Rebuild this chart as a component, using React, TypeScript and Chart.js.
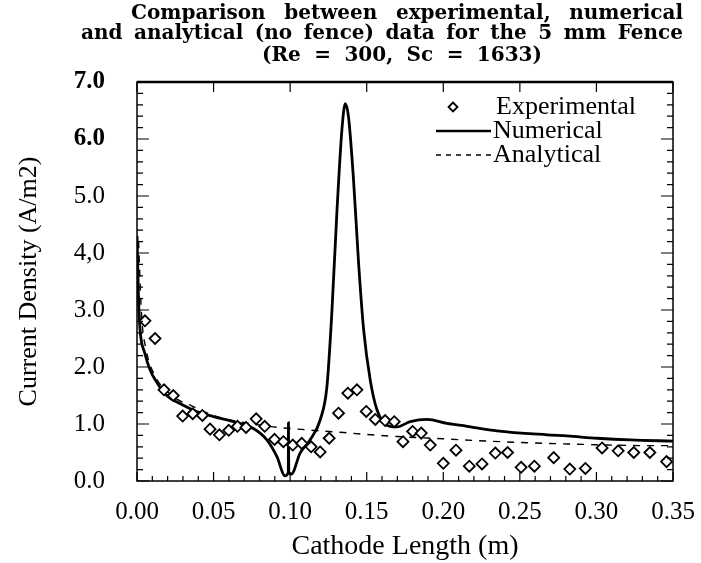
import React, { useEffect, useRef } from "react";
import { Chart, registerables } from "chart.js";
Chart.register(...registerables);

const TITLE_LINES = [
  "Comparison between experimental, numerical",
  "and analytical (no fence) data for the 5 mm Fence",
  "(Re = 300, Sc = 1633)",
];
const X_TITLE = "Cathode Length (m)";
const Y_TITLE = "Current Density (A/m2)";
const Y_TICK_LABELS = ["0.0", "1.0", "2.0", "3.0", "4,0", "5.0", "6.0", "7.0"];
const SERIES_LABELS = ["Experimental", "Numerical", "Analytical"];

const expX = [0.0052, 0.0118, 0.0176, 0.0237, 0.0298, 0.0364, 0.0427, 0.0477, 0.0538, 0.0599, 0.0656, 0.0712, 0.0778, 0.0834, 0.0898, 0.0956, 0.1017, 0.1076, 0.1137, 0.1196, 0.1255, 0.1316, 0.1377, 0.1436, 0.1497, 0.1556, 0.162, 0.168, 0.1737, 0.18, 0.1856, 0.1915, 0.2, 0.2083, 0.217, 0.2253, 0.234, 0.242, 0.2508, 0.2595, 0.2721, 0.2826, 0.2928, 0.3037, 0.3142, 0.3244, 0.3349, 0.3458];
const expY = [2.81, 2.5, 1.6, 1.5, 1.14, 1.18, 1.15, 0.91, 0.81, 0.89, 0.96, 0.94, 1.09, 0.96, 0.73, 0.69, 0.63, 0.66, 0.6, 0.51, 0.75, 1.19, 1.54, 1.6, 1.22, 1.08, 1.06, 1.04, 0.69, 0.87, 0.84, 0.63, 0.31, 0.54, 0.26, 0.3, 0.49, 0.5, 0.24, 0.26, 0.41, 0.21, 0.22, 0.58, 0.53, 0.5, 0.5, 0.34];

const numX = [0, 0.001, 0.002, 0.005, 0.0085, 0.012, 0.019, 0.028, 0.039, 0.05, 0.063, 0.076, 0.0848, 0.0913, 0.0967, 0.0988, 0.0989, 0.0991, 0.1008, 0.1065, 0.113, 0.1196, 0.124, 0.1272, 0.1305, 0.1338, 0.136, 0.1381, 0.1414, 0.1447, 0.148, 0.1523, 0.1567, 0.1632, 0.1697, 0.1784, 0.1893, 0.2024, 0.2155, 0.235, 0.2678, 0.2809, 0.3005, 0.3222, 0.35];
const numY = [4.3, 3.2, 2.65, 2.25, 1.95, 1.77, 1.51, 1.36, 1.22, 1.13, 1.04, 0.92, 0.72, 0.43, 0.09, 0.15, 1.02, 0.15, 0.12, 0.49, 0.72, 1.07, 1.65, 2.94, 4.7, 6.16, 6.62, 6.39, 5.28, 3.82, 2.65, 1.77, 1.25, 0.98, 0.95, 1.04, 1.08, 1.01, 0.96, 0.88, 0.81, 0.79, 0.75, 0.72, 0.7];

const anaX = [0.001, 0.003, 0.006, 0.0107, 0.0237, 0.0357, 0.05, 0.065, 0.089, 0.105, 0.135, 0.148, 0.17, 0.2, 0.237, 0.281, 0.3375, 0.35];
const anaY = [4.2, 2.9, 2.3, 1.9, 1.48, 1.32, 1.15, 1.05, 0.95, 0.91, 0.85, 0.82, 0.78, 0.74, 0.69, 0.65, 0.62, 0.62];

const zip = (xs: number[], ys: number[]) => xs.map((x, i) => ({ x, y: ys[i] }));

const SERIF = "'Liberation Serif', 'Times New Roman', serif";
const TITLE_FONT = "bold 20px 'DejaVu Serif', serif";
const TITLE_LAYOUT = [
  { left: 131, right: 683, y: 14 },
  { left: 81, right: 683, y: 34 },
  { left: 262, right: 542, y: 56 },
];

function drawJustified(ctx: CanvasRenderingContext2D, text: string, left: number, right: number, y: number) {
  const words = text.split(" ");
  const widths = words.map((w) => ctx.measureText(w).width);
  const total = widths.reduce((a, b) => a + b, 0);
  const gap = words.length > 1 ? (right - left - total) / (words.length - 1) : 0;
  let x = left;
  words.forEach((w, i) => {
    ctx.fillText(w, x, y);
    x += widths[i] + gap;
  });
}

const decorPlugin = {
  id: "decor",
  afterDatasetsDraw(chart: any) {
    const { ctx, chartArea, scales } = chart;
    const { left, right, top, bottom } = chartArea;
    const xs = scales.x;
    const ys = scales.y;
    ctx.save();
    ctx.strokeStyle = "#000";
    ctx.lineWidth = 1.5;
    ctx.strokeRect(left, top, right - left, bottom - top);
    ctx.lineWidth = 2.5;
    ctx.beginPath();
    ctx.moveTo(left, top);
    ctx.lineTo(right, top);
    ctx.stroke();
    ctx.lineWidth = 1.2;
    ctx.beginPath();
    for (let i = 0; i <= 35; i++) {
      const v = i * 0.2;
      const py = ys.getPixelForValue(v);
      const major = i % 5 === 0;
      const len = major ? 12 : 6;
      ctx.moveTo(left, py);
      ctx.lineTo(left + len, py);
      ctx.moveTo(right, py);
      ctx.lineTo(right - len, py);
    }
    for (let i = 0; i <= 35; i++) {
      const v = i * 0.01;
      const px = xs.getPixelForValue(v);
      const major = i % 5 === 0;
      ctx.moveTo(px, bottom);
      ctx.lineTo(px, bottom - (major ? 9 : 5));
      if (major) {
        ctx.moveTo(px, top);
        ctx.lineTo(px, top + 10);
      }
    }
    ctx.stroke();
    ctx.restore();
  },
  afterDraw(chart: any) {
    const { ctx } = chart;
    ctx.save();
    ctx.fillStyle = "#000";
    ctx.font = TITLE_FONT;
    ctx.textBaseline = "middle";
    ctx.textAlign = "left";
    TITLE_LINES.forEach((line, i) => {
      const l = TITLE_LAYOUT[i];
      drawJustified(ctx, line, l.left, l.right, l.y);
    });

    // legend
    const ds = chart.data.datasets;
    ctx.font = `26px ${SERIF}`;
    ctx.textBaseline = "middle";
    const lx0 = 436;
    const lx1 = 491;
    const tx = 493;
    const rows = [107, 131, 155];
    const cx = 453;
    const r = 4.5;
    ctx.beginPath();
    ctx.moveTo(cx, rows[0] - r);
    ctx.lineTo(cx + r, rows[0]);
    ctx.lineTo(cx, rows[0] + r);
    ctx.lineTo(cx - r, rows[0]);
    ctx.closePath();
    ctx.fillStyle = "#fff";
    ctx.fill();
    ctx.strokeStyle = "#000";
    ctx.lineWidth = 1.8;
    ctx.stroke();
    ctx.fillStyle = "#000";
    ctx.fillText(ds[0].label, tx + 3, rows[0]);
    ctx.lineWidth = 2.5;
    ctx.beginPath();
    ctx.moveTo(lx0, rows[1]);
    ctx.lineTo(lx1, rows[1]);
    ctx.stroke();
    ctx.fillText(ds[1].label, tx, rows[1]);
    ctx.lineWidth = 1.3;
    ctx.setLineDash([5, 5]);
    ctx.beginPath();
    ctx.moveTo(lx0, rows[2]);
    ctx.lineTo(lx1, rows[2]);
    ctx.stroke();
    ctx.setLineDash([]);
    ctx.fillText(ds[2].label, tx, rows[2]);
    ctx.restore();
  },
};

export default function App() {
  const canvasRef = useRef<HTMLCanvasElement | null>(null);

  useEffect(() => {
    const canvas = canvasRef.current;
    if (!canvas) return;
    const chart = new Chart(canvas, {
      type: "scatter",
      data: {
        datasets: [
          {
            label: SERIES_LABELS[0],
            data: zip(expX, expY),
            showLine: false,
            pointStyle: "rectRot",
            pointRadius: 5.5,
            pointBorderWidth: 1.8,
            pointBorderColor: "#000",
            pointBackgroundColor: "#fff",
            order: 0,
          },
          {
            label: SERIES_LABELS[1],
            data: zip(numX, numY),
            showLine: true,
            borderColor: "#000",
            borderWidth: 2.8,
            pointRadius: 0,
            cubicInterpolationMode: "monotone",
            order: 1,
          },
          {
            label: SERIES_LABELS[2],
            data: zip(anaX, anaY),
            showLine: true,
            borderColor: "#000",
            borderWidth: 1.4,
            borderDash: [7, 7],
            pointRadius: 0,
            cubicInterpolationMode: "monotone",
            order: 2,
          },
        ],
      } as any,
      options: {
        animation: false,
        responsive: true,
        maintainAspectRatio: false,
        layout: { padding: { top: 82, right: 28, left: 0, bottom: 0 } },
        plugins: {
          legend: { display: false },
          title: { display: false },
          tooltip: { enabled: false },
        },
        scales: {
          x: {
            type: "linear",
            min: 0,
            max: 0.35,
            afterFit: (s: any) => {
              s.height = 82;
              s.paddingLeft = 0;
              s.paddingRight = 0;
            },
            grid: { display: false, drawTicks: false },
            border: { display: false },
            ticks: {
              stepSize: 0.05,
              padding: 16,
              color: "#000",
              font: { family: SERIF, size: 25 },
              callback: (v: any) => Number(v).toFixed(2),
            },
            title: {
              display: true,
              text: X_TITLE,
              color: "#000",
              font: { family: SERIF, size: 28 },
              padding: { top: 0, bottom: 0 },
            },
          },
          y: {
            type: "linear",
            min: 0,
            max: 7,
            afterFit: (s: any) => {
              s.width = 137;
            },
            grid: { display: false, drawTicks: false },
            border: { display: false },
            ticks: {
              stepSize: 1,
              padding: 32,
              color: "#000",
              font: (c: any) => ({
                family: SERIF,
                size: 25,
                weight: c.tick && c.tick.value >= 6 ? "bold" : "normal",
              }),
              callback: (v: any) => Y_TICK_LABELS[Math.round(Number(v))],
            },
            title: {
              display: true,
              text: Y_TITLE,
              color: "#000",
              font: { family: SERIF, size: 26 },
              padding: { top: 14, bottom: 0 },
            },
          },
        },
      } as any,
      plugins: [decorPlugin],
    });
    return () => chart.destroy();
  }, []);

  return (
    <div style={{ position: "absolute", left: 0, top: 0, width: 701, height: 563, background: "#fff" }}>
      <canvas ref={canvasRef} />
    </div>
  );
}
